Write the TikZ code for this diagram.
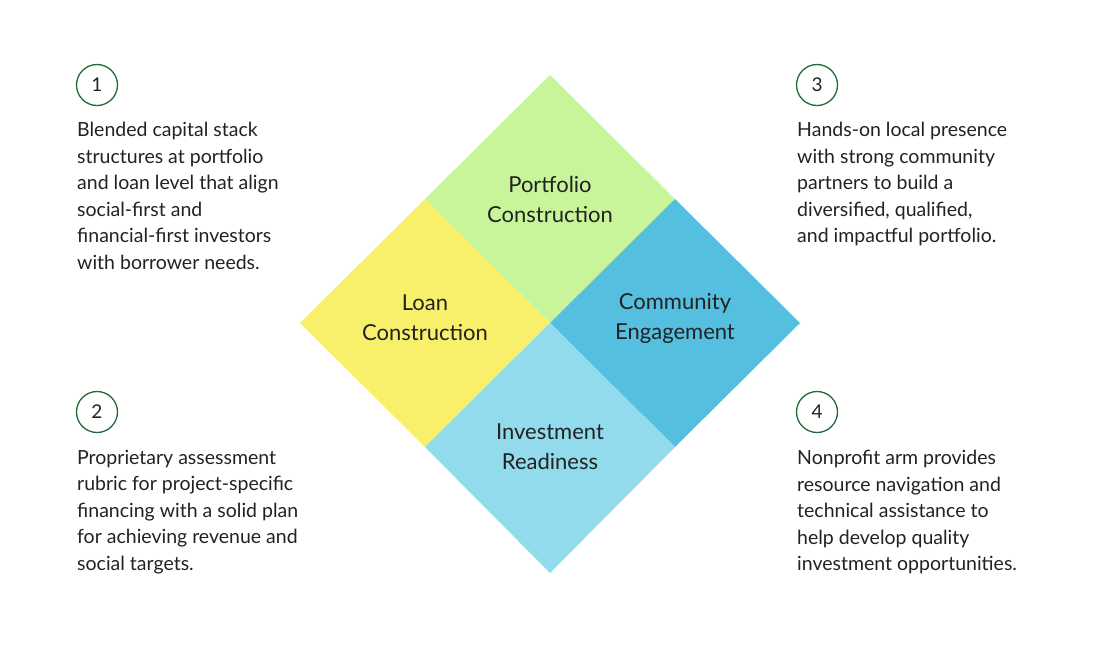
\documentclass[tikz,border=0pt]{standalone}
\usepackage{fontspec}
\setmainfont{Lato}
\definecolor{cg}{HTML}{C8F59A}
\definecolor{cy}{HTML}{F8F06A}
\definecolor{cb}{HTML}{55BFE0}
\definecolor{cl}{HTML}{92DBEC}
\definecolor{dg}{HTML}{1E6B35}
\definecolor{tx}{HTML}{222222}
\begin{document}
\begin{tikzpicture}[x=1pt,y=-1pt,
  num/.style={circle,draw=dg,line width=1.3pt,minimum size=41pt,inner sep=0pt,font=\fontsize{19}{19}\selectfont,text=tx},
  desc/.style={anchor=north west,align=left,inner sep=0pt,font=\fontsize{19.5}{26.5}\selectfont,text=tx},
  lab/.style={align=center,font=\fontsize{22}{30}\selectfont,text=tx}]
\useasboundingbox (0,0) rectangle (1100,649);
\fill[cg] (550,75) -- (675,199) -- (550,323) -- (425,199) -- cycle;
\fill[cy] (425,199) -- (550,323) -- (425,447) -- (300,323) -- cycle;
\fill[cb] (675,199) -- (800,323) -- (675,447) -- (550,323) -- cycle;
\fill[cl] (550,323) -- (675,447) -- (550,573) -- (425,447) -- cycle;
\node[lab] (p) at (550,199) {Portfolio\\Construction};
\node[lab] (l) at (425,318) {Loan\\Construction};
\node[lab] (c) at (675,318) {Community\\Engagement};
\node[lab] (i) at (550,447) {Investment\\Readiness};
\node[num] (n1) at (97,85) {1};
\node[num] (n2) at (97,412) {2};
\node[num] (n3) at (817,85) {3};
\node[num] (n4) at (817,412) {4};
\node[desc] (t1) at (77,122) {Blended capital stack\\structures at portfolio\\and loan level that align\\social-first and\\financial-first investors\\with borrower needs.};
\node[desc] (t2) at (77,450) {Proprietary assessment\\rubric for project-specific\\financing with a solid plan\\for achieving revenue and\\social targets.};
\node[desc] (t3) at (797,122) {Hands-on local presence\\with strong community\\partners to build a\\diversified, qualified,\\and impactful portfolio.};
\node[desc] (t4) at (797,450) {Nonprofit arm provides\\resource navigation and\\technical assistance to\\help develop quality\\investment opportunities.};
\end{tikzpicture}
\end{document}
